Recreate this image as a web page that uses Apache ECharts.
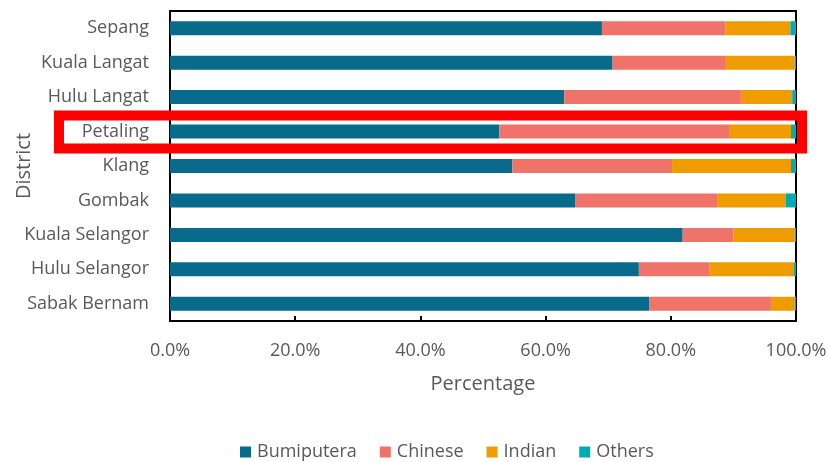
<!DOCTYPE html>
<html>
<head>
<meta charset="utf-8">
<script src="https://cdn.jsdelivr.net/npm/echarts@6/dist/echarts.min.js"></script>
<style>
  html, body { margin: 0; padding: 0; background: #fff; }
  #chart { width: 829px; height: 462px; }
</style>
</head>
<body>
<div id="chart"></div>
<script>
// Ethnic composition by district, Selangor (percent of population)
const districts = ['Sepang', 'Kuala Langat', 'Hulu Langat', 'Petaling', 'Klang',
                   'Gombak', 'Kuala Selangor', 'Hulu Selangor', 'Sabak Bernam'];
const bumiputera = [69.0, 70.7, 63.0, 52.6, 54.7, 64.7, 81.9, 74.9, 76.6];
const chinese    = [19.7, 18.1, 28.2, 36.7, 25.5, 22.8,  8.1, 11.3, 19.4];
const indian     = [10.4, 11.0,  8.2,  9.9, 19.0, 10.9,  9.8, 13.4,  3.8];
const others     = [ 0.9,  0.2,  0.6,  0.8,  0.8,  1.6,  0.2,  0.4,  0.2];
const xTicks = [0, 20, 40, 60, 80, 100];
const highlighted = 'Petaling';

const seriesDefs = [
  { name: 'Bumiputera', data: bumiputera, color: '#086B8B' },
  { name: 'Chinese',    data: chinese,    color: '#F0736A' },
  { name: 'Indian',     data: indian,     color: '#EE9C00' },
  { name: 'Others',     data: others,     color: '#00ACB4' }
];

const FONT = '"Open Sans", "Liberation Sans", sans-serif';
const GREY = '#595959';

const chart = echarts.init(document.getElementById('chart'), null, { renderer: 'canvas' });

chart.setOption({
  animation: false,
  textStyle: { fontFamily: FONT },
  grid: {
    left: 170, right: 33, top: 11, bottom: 141,
    containLabel: false,
    outerBoundsMode: 'none',
    show: true, borderColor: '#000', borderWidth: 2, backgroundColor: 'transparent'
  },
  legend: {
    top: 438,
    left: 235,
    itemWidth: 11, itemHeight: 11, itemGap: 23,
    icon: 'rect',
    textStyle: { color: GREY, fontSize: 18, fontFamily: FONT, padding: [0, 0, 0, 1] },
    data: seriesDefs.map(s => s.name)
  },
  xAxis: {
    type: 'value',
    min: xTicks[0], max: xTicks[xTicks.length - 1], interval: 20,
    name: 'Percentage',
    nameLocation: 'middle',
    nameGap: 53,
    nameMoveOverlap: false,
    nameTextStyle: { color: GREY, fontSize: 20, fontFamily: FONT },
    axisLine: { show: true, lineStyle: { color: '#000', width: 2 } },
    axisTick: { show: true, inside: true, length: 5, lineStyle: { color: '#000', width: 2 } },
    splitLine: { show: false },
    axisLabel: {
      color: GREY, fontSize: 18, margin: 21,
      formatter: v => v.toFixed(1) + '%'
    }
  },
  yAxis: {
    type: 'category',
    inverse: true,
    data: districts,
    name: 'District',
    nameLocation: 'middle',
    nameGap: 136,
    nameRotate: 90,
    nameMoveOverlap: false,
    nameTextStyle: { color: GREY, fontSize: 20, fontFamily: FONT },
    axisLine: { show: true, lineStyle: { color: '#000', width: 2 } },
    axisTick: { show: false },
    axisLabel: { color: GREY, fontSize: 18, margin: 21 }
  },
  series: seriesDefs.map(s => ({
    name: s.name,
    type: 'bar',
    stack: 'total',
    data: s.data,
    barWidth: 14,
    itemStyle: { color: s.color },
    emphasis: { disabled: true }
  }))
});

// Red frame drawn around the highlighted district row
const rowCenter = chart.convertToPixel({ yAxisIndex: 0 }, highlighted);
const rightEdge = chart.convertToPixel({ xAxisIndex: 0 }, 100);
chart.setOption({
  graphic: [{
    type: 'rect',
    z: 100,
    shape: { x: 59, y: rowCenter - 16, width: rightEdge + 6 - 59, height: 33 },
    style: { fill: 'none', stroke: '#FF0000', lineWidth: 10 }
  }]
});
</script>
</body>
</html>
